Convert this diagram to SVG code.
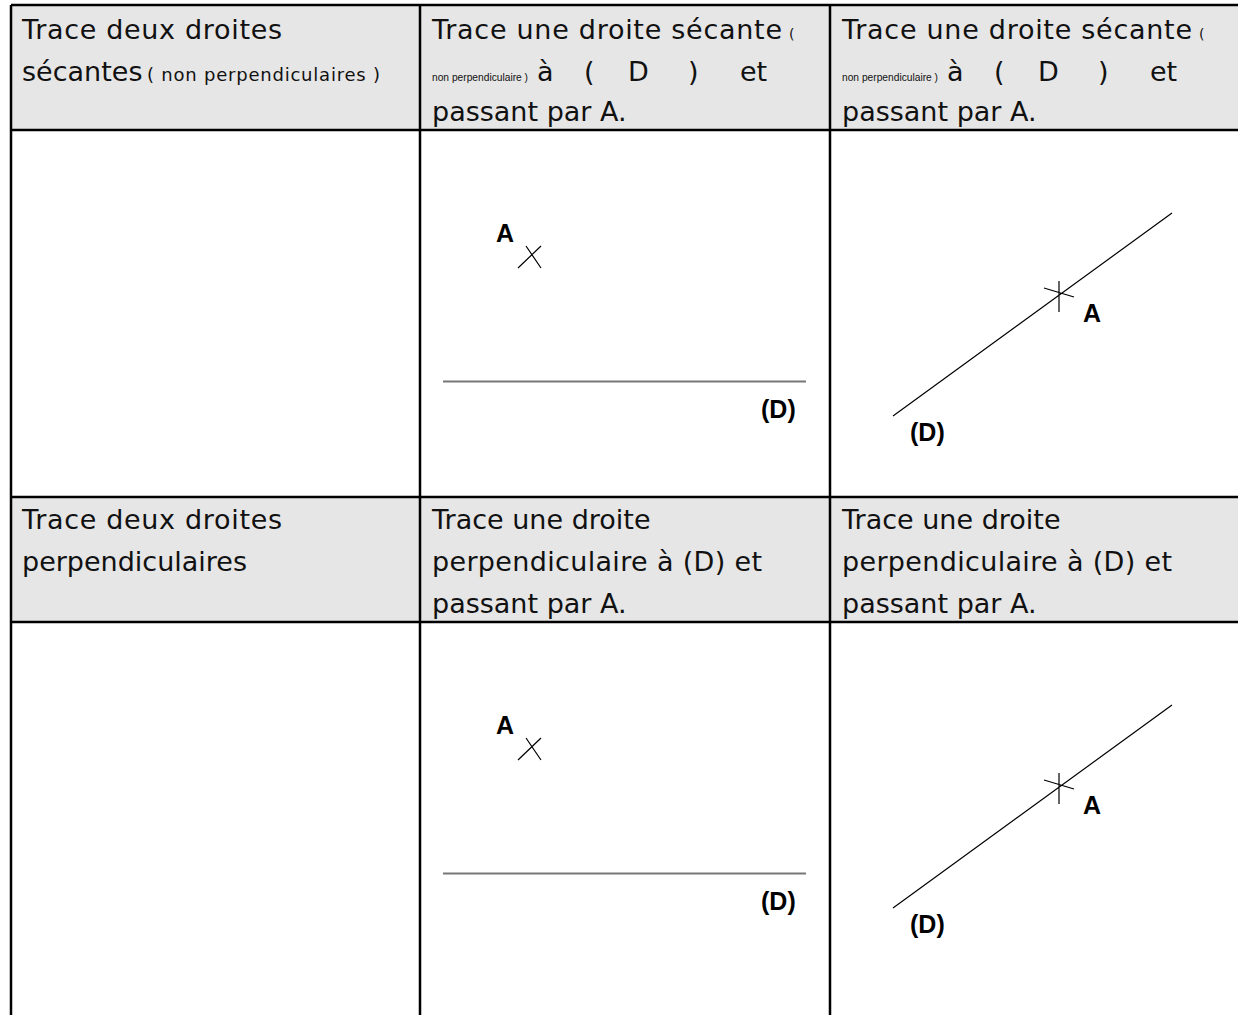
<svg xmlns="http://www.w3.org/2000/svg" width="1238" height="1015" viewBox="0 0 1238 1015">
<style>
.hdr{fill:#e6e6e6}
.grid{stroke:#000;stroke-width:2.5;fill:none}
.t{font-family:"DejaVu Sans","Open Sans",sans-serif;font-size:27px;fill:#111}
.s{font-size:18px}
.xs{font-size:14px}
.sm{font-family:"Liberation Sans","Arial",sans-serif;font-size:11px;fill:#111}
.lbl{font-family:"Liberation Sans","Arial",sans-serif;font-weight:bold;font-size:25px;fill:#000}
.fig{stroke:#000;stroke-width:1.2;fill:none}
.hl{stroke:#777;stroke-width:1.8;fill:none}
</style>
<rect width="1238" height="1015" fill="#fff"/>
<g id="backgrounds">
<rect class="hdr" x="11" y="5" width="1227" height="125"/>
<rect class="hdr" x="11" y="497" width="1227" height="125"/>
</g>
<g id="grid">
<path class="grid" d="M11 5V1015M420 5V1015M830 5V1015M11 5H1238M11 130H1238M11 497H1238M11 622H1238"/>
</g>
<g id="h1c1">
<text class="t" x="22" y="39" textLength="260" lengthAdjust="spacing">Trace deux droites</text>
<text class="t" x="22" y="81">sécantes</text>
<text class="t s" x="147" y="81" textLength="233" lengthAdjust="spacing">( non perpendiculaires )</text>
</g>
<g id="h1c2">
<text class="t" x="432" y="39" textLength="350" lengthAdjust="spacing">Trace une droite sécante</text>
<text class="t xs" x="789" y="39">(</text>
<text class="sm" x="432" y="81" textLength="96" lengthAdjust="spacingAndGlyphs">non perpendiculaire )</text>
<text class="t" y="81"><tspan x="537">à</tspan><tspan x="584">(</tspan><tspan x="628">D</tspan><tspan x="688">)</tspan><tspan x="740">et</tspan></text>
<text class="t" x="432" y="121">passant par A.</text>
</g>
<g id="h1c3">
<text class="t" x="842" y="39" textLength="350" lengthAdjust="spacing">Trace une droite sécante</text>
<text class="t xs" x="1199" y="39">(</text>
<text class="sm" x="842" y="81" textLength="96" lengthAdjust="spacingAndGlyphs">non perpendiculaire )</text>
<text class="t" y="81"><tspan x="947">à</tspan><tspan x="994">(</tspan><tspan x="1038">D</tspan><tspan x="1098">)</tspan><tspan x="1150">et</tspan></text>
<text class="t" x="842" y="121">passant par A.</text>
</g>
<g id="h2c1">
<text class="t" x="22" y="529" textLength="260" lengthAdjust="spacing">Trace deux droites</text>
<text class="t" x="22" y="571">perpendiculaires</text>
</g>
<g id="h2c2">
<text class="t" x="432" y="529">Trace une droite</text>
<text class="t" x="432" y="571" textLength="330" lengthAdjust="spacing">perpendiculaire à (D) et</text>
<text class="t" x="432" y="613">passant par A.</text>
</g>
<g id="h2c3">
<text class="t" x="842" y="529">Trace une droite</text>
<text class="t" x="842" y="571" textLength="330" lengthAdjust="spacing">perpendiculaire à (D) et</text>
<text class="t" x="842" y="613">passant par A.</text>
</g>
<g id="fig1">
<text class="lbl" x="496" y="242">A</text>
<path class="fig" d="M518 268L541 246M526 246L541 268"/>
<path class="hl" d="M443 381.5H806"/>
<text class="lbl" x="761" y="418">(D)</text>
</g>
<g id="fig2">
<path class="fig" d="M893 416L1172 213M1059 281V312M1044 288L1074 297"/>
<text class="lbl" x="1083" y="322">A</text>
<text class="lbl" x="910" y="441">(D)</text>
</g>
<g id="fig3">
<text class="lbl" x="496" y="734">A</text>
<path class="fig" d="M518 760L541 738M526 738L541 760"/>
<path class="hl" d="M443 873.5H806"/>
<text class="lbl" x="761" y="910">(D)</text>
</g>
<g id="fig4">
<path class="fig" d="M893 908L1172 705M1059 773V804M1044 780L1074 789"/>
<text class="lbl" x="1083" y="814">A</text>
<text class="lbl" x="910" y="933">(D)</text>
</g>
<g id="connectors"></g>
</svg>
